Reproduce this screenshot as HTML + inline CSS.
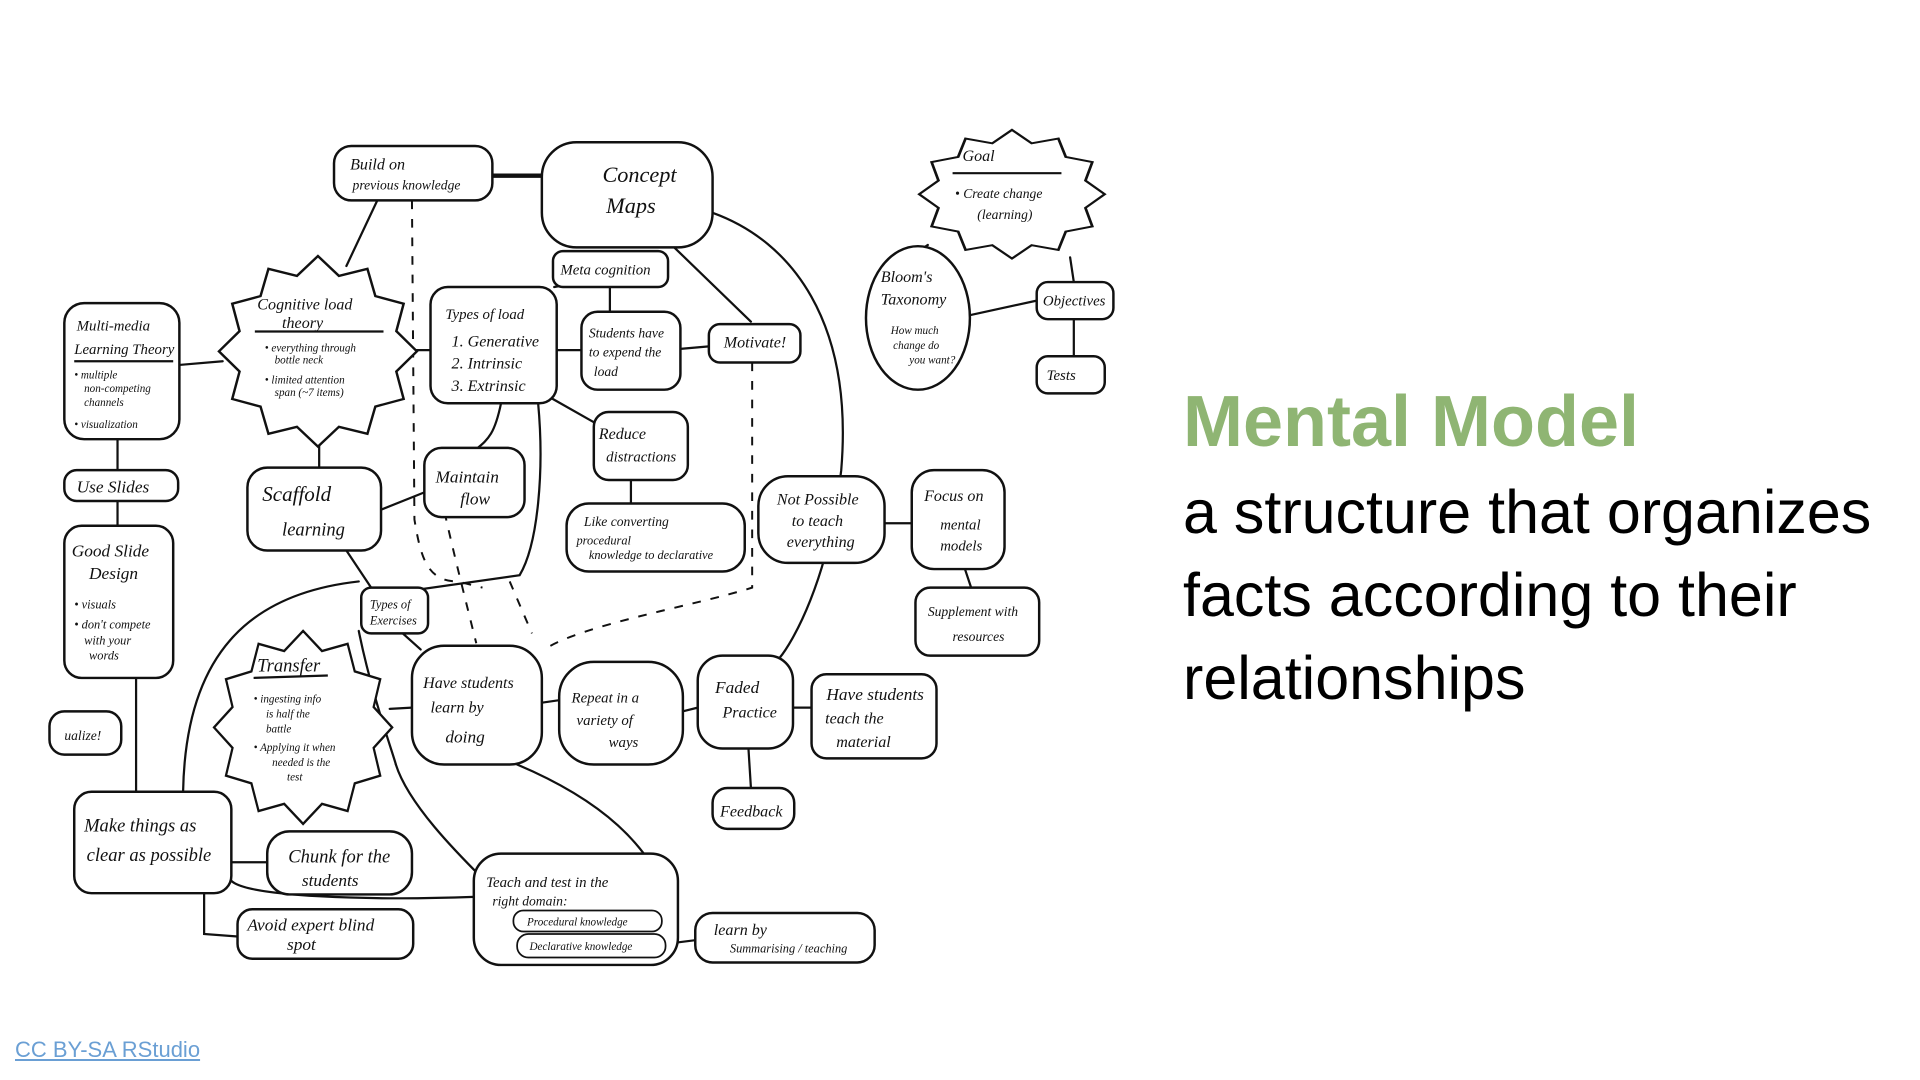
<!DOCTYPE html>
<html><head><meta charset="utf-8"><style>
html,body{margin:0;padding:0;background:#fff;width:1920px;height:1080px;overflow:hidden;}
svg{position:absolute;left:0;top:0;}
.h{position:absolute;font-family:"Liberation Sans",sans-serif;white-space:nowrap;transform-origin:0 0;}
</style></head><body>
<svg width="1920" height="1080" viewBox="0 0 1552 873" preserveAspectRatio="none">
<defs>
<polygon id="star" points="1,0 .792,.212 .866,.5 .58,.58 .5,.866 .212,.792 0,1 -.212,.792 -.5,.866 -.58,.58 -.866,.5 -.792,.212 -1,0 -.792,-.212 -.866,-.5 -.58,-.58 -.5,-.866 -.212,-.792 0,-1 .212,-.792 .5,-.866 .58,-.58 .866,-.5 .792,-.212"/>
</defs>
<g fill="none" stroke="#111" stroke-width="1.8" stroke-linecap="round">
<path d="M398,142 L438,142" stroke-width="3.5"/>
<path d="M305,162 L280,215"/>
<path d="M145,295 L180,292"/>
<path d="M330,283 L348,283"/>
<path d="M450,283 L470,283"/>
<path d="M550,282 L573,280"/>
<path d="M448,232 L470,228"/>
<path d="M493,232 L493,252"/>
<path d="M545,200 L607,260"/>
<path d="M576,172 C640,195 690,260 680,380 C670,470 640,520 630,532"/>
<path d="M446,322 L483,343"/>
<path d="M510,388 L510,407"/>
<path d="M405,326 C400,350 395,355 385,363"/>
<path d="M308,412 L343,398"/>
<path d="M435,326 C440,380 435,440 420,465 L300,482"/>
<path d="M258,358 L258,378"/>
<path d="M95,355 L95,380"/>
<path d="M95,405 L95,425"/>
<path d="M280,445 L300,475"/>
<path d="M320,507 L340,525"/>
<path d="M315,573 L333,572"/>
<path d="M438,568 L452,566"/>
<path d="M552,575 L564,572"/>
<path d="M641,572 L656,572"/>
<path d="M605,605 L607,637"/>
<path d="M715,423 L737,423"/>
<path d="M780,460 L785,475"/>
<path d="M750,198 C725,215 712,225 708,238"/>
<path d="M783,255 L838,243"/>
<path d="M865,208 L868,228"/>
<path d="M868,258 L868,288"/>
<path d="M110,548 L110,640"/>
<path d="M290,470 C200,480 150,530 148,640"/>
<path d="M187,697 L216,697"/>
<path d="M165,722 L165,755 L192,757"/>
<path d="M187,712 C200,725 300,728 383,725"/>
<path d="M320,618 C330,650 370,690 390,710"/>
<path d="M418,618 C470,640 540,680 548,760"/>
<path d="M538,763 L562,760"/>
<path d="M290,510 C300,560 318,610 320,618"/>
</g>
<g fill="none" stroke="#111" stroke-width="1.6" stroke-dasharray="7,8">
<path d="M333,162 L335,420 C340,450 345,470 370,470 L390,475"/>
<path d="M350,370 C360,420 370,460 385,520"/>
<path d="M412,470 L430,512"/>
<path d="M608,293 L608,475 C560,490 470,505 440,525"/>
</g>
<g fill="#fff" stroke="#111" stroke-width="2">
<rect x="270" y="118" width="128" height="44" rx="14"/>
<rect x="438" y="115" width="138" height="85" rx="28"/>
<rect x="447" y="203" width="93" height="29" rx="8"/>
<rect x="52" y="245" width="93" height="110" rx="16"/>
<rect x="348" y="232" width="102" height="94" rx="14"/>
<rect x="470" y="252" width="80" height="63" rx="13"/>
<rect x="573" y="262" width="74" height="31" rx="9"/>
<rect x="480" y="333" width="76" height="55" rx="12"/>
<rect x="458" y="407" width="144" height="55" rx="18"/>
<rect x="343" y="362" width="81" height="56" rx="14"/>
<rect x="200" y="378" width="108" height="67" rx="16"/>
<rect x="52" y="380" width="92" height="25" rx="10"/>
<rect x="52" y="425" width="88" height="123" rx="14"/>
<rect x="613" y="385" width="102" height="70" rx="24"/>
<rect x="737" y="380" width="75" height="80" rx="18"/>
<rect x="740" y="475" width="100" height="55" rx="12"/>
<rect x="292" y="475" width="54" height="37" rx="8"/>
<rect x="40" y="575" width="58" height="35" rx="12"/>
<rect x="333" y="522" width="105" height="96" rx="26"/>
<rect x="452" y="535" width="100" height="83" rx="28"/>
<rect x="564" y="530" width="77" height="75" rx="20"/>
<rect x="656" y="545" width="101" height="68" rx="12"/>
<rect x="576" y="637" width="66" height="33" rx="12"/>
<rect x="60" y="640" width="127" height="82" rx="14"/>
<rect x="216" y="672" width="117" height="51" rx="18"/>
<rect x="192" y="735" width="142" height="40" rx="12"/>
<rect x="383" y="690" width="165" height="90" rx="22"/>
<rect x="562" y="738" width="145" height="40" rx="14"/>
<rect x="838" y="228" width="62" height="30" rx="9"/>
<rect x="838" y="288" width="55" height="30" rx="9"/>
<ellipse cx="742" cy="257" rx="42" ry="58"/>
<use href="#star" transform="translate(257,284) scale(80,77)" stroke-width="0.025"/>
<use href="#star" transform="translate(245,588) scale(72,78)" stroke-width="0.025"/>
<use href="#star" transform="translate(818,157) scale(75,52)" stroke-width="0.03"/>
<rect x="415" y="736" width="120" height="17" rx="8" stroke-width="1.4"/>
<rect x="418" y="755" width="120" height="19" rx="9" stroke-width="1.4"/>
</g>
<g stroke="#111" stroke-width="1.8">
<line x1="206" y1="268" x2="310" y2="268"/>
<line x1="60" y1="292" x2="140" y2="292"/>
<line x1="770" y1="140" x2="858" y2="140"/>
<line x1="205" y1="548" x2="265" y2="546"/>
</g>
<g font-family="Liberation Serif, serif" font-style="italic" fill="#111" font-size="13">
<text x="283" y="137">Build on</text><text x="285" y="153" font-size="11">previous knowledge</text>
<text x="487" y="147" font-size="18">Concept</text><text x="490" y="172" font-size="18">Maps</text>
<text x="453" y="222" font-size="12">Meta cognition</text>
<text x="62" y="267" font-size="12">Multi-media</text><text x="60" y="286" font-size="12">Learning Theory</text>
<text x="60" y="306" font-size="9">• multiple</text><text x="68" y="317" font-size="9">non-competing</text><text x="68" y="328" font-size="9">channels</text><text x="60" y="346" font-size="9">• visualization</text>
<text x="208" y="250" font-size="13">Cognitive load</text><text x="228" y="265" font-size="13">theory</text>
<text x="214" y="284" font-size="9">• everything through</text><text x="222" y="294" font-size="9">bottle neck</text>
<text x="214" y="310" font-size="9">• limited attention</text><text x="222" y="320" font-size="9">span (~7 items)</text>
<text x="360" y="258" font-size="12">Types of load</text>
<text x="365" y="280">1. Generative</text><text x="365" y="298">2. Intrinsic</text><text x="365" y="316">3. Extrinsic</text>
<text x="476" y="273" font-size="11">Students have</text><text x="476" y="288" font-size="11">to expend the</text><text x="480" y="304" font-size="11">load</text>
<text x="585" y="281" font-size="13">Motivate!</text>
<text x="484" y="355" font-size="13">Reduce</text><text x="490" y="373" font-size="12">distractions</text>
<text x="472" y="425" font-size="11">Like converting</text><text x="466" y="440" font-size="10">procedural</text><text x="476" y="452" font-size="10">knowledge to declarative</text>
<text x="352" y="390" font-size="14">Maintain</text><text x="372" y="408" font-size="14">flow</text>
<text x="212" y="405" font-size="17">Scaffold</text><text x="228" y="433" font-size="15">learning</text>
<text x="62" y="398" font-size="14">Use Slides</text>
<text x="58" y="450" font-size="14">Good Slide</text><text x="72" y="468" font-size="14">Design</text>
<text x="60" y="492" font-size="10">• visuals</text><text x="60" y="508" font-size="10">• don't compete</text><text x="68" y="521" font-size="10">with your</text><text x="72" y="533" font-size="10">words</text>
<text x="628" y="408" font-size="13">Not Possible</text><text x="640" y="425" font-size="13">to teach</text><text x="636" y="442" font-size="13">everything</text>
<text x="747" y="405" font-size="13">Focus on</text><text x="760" y="428" font-size="12">mental</text><text x="760" y="445" font-size="12">models</text>
<text x="750" y="498" font-size="11">Supplement with</text><text x="770" y="518" font-size="11">resources</text>
<text x="299" y="492" font-size="10">Types of</text><text x="299" y="505" font-size="10">Exercises</text>
<text x="208" y="543" font-size="15">Transfer</text>
<text x="205" y="568" font-size="9">• ingesting info</text><text x="215" y="580" font-size="9">is half the</text><text x="215" y="592" font-size="9">battle</text>
<text x="205" y="607" font-size="9">• Applying it when</text><text x="220" y="619" font-size="9">needed is the</text><text x="232" y="631" font-size="9">test</text>
<text x="52" y="598" font-size="11">ualize!</text>
<text x="342" y="556" font-size="13">Have students</text><text x="348" y="576" font-size="13">learn by</text><text x="360" y="600" font-size="14">doing</text>
<text x="462" y="568" font-size="12">Repeat in a</text><text x="466" y="586" font-size="12">variety of</text><text x="492" y="604" font-size="12">ways</text>
<text x="578" y="560" font-size="14">Faded</text><text x="584" y="580" font-size="13">Practice</text>
<text x="668" y="566" font-size="14">Have students</text><text x="667" y="585" font-size="13">teach the</text><text x="676" y="604" font-size="13">material</text>
<text x="582" y="660" font-size="13">Feedback</text>
<text x="68" y="672" font-size="15">Make things as</text><text x="70" y="696" font-size="15">clear as possible</text>
<text x="233" y="697" font-size="15">Chunk for the</text><text x="244" y="716" font-size="14">students</text>
<text x="200" y="752" font-size="14">Avoid expert blind</text><text x="232" y="768" font-size="14">spot</text>
<text x="393" y="717" font-size="12">Teach and test in the</text><text x="398" y="732" font-size="11">right domain:</text>
<text x="426" y="748" font-size="9">Procedural knowledge</text><text x="428" y="768" font-size="9">Declarative knowledge</text>
<text x="577" y="756" font-size="13">learn by</text><text x="590" y="770" font-size="10">Summarising / teaching</text>
<text x="778" y="130" font-size="13">Goal</text><text x="772" y="160" font-size="11">• Create change</text><text x="790" y="177" font-size="11">(learning)</text>
<text x="712" y="228" font-size="13">Bloom's</text><text x="712" y="246" font-size="13">Taxonomy</text>
<text x="720" y="270" font-size="9">How much</text><text x="722" y="282" font-size="9">change do</text><text x="735" y="294" font-size="9">you want?</text>
<text x="843" y="247" font-size="12">Objectives</text>
<text x="846" y="307" font-size="12">Tests</text>
</g>
</svg>
<div class="h" style="left:1183px;top:382px;font-size:72px;font-weight:bold;color:#8fb573;line-height:80px;">Mental Model</div>
<div class="h" style="left:1183px;top:471px;font-size:61px;color:#000;line-height:83px;">a structure that organizes<br>facts according to their<br>relationships</div>
<div class="h" style="left:15px;top:1037px;font-size:22px;color:#6a9fd4;text-decoration:underline;">CC BY-SA RStudio</div>
</body></html>
